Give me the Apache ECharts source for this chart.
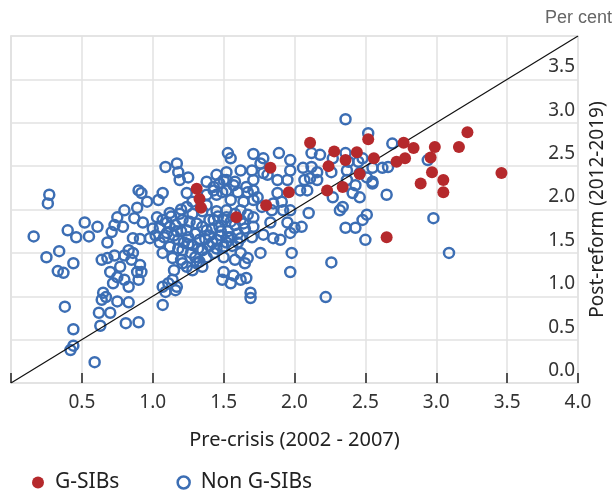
<!DOCTYPE html>
<html>
<head>
<meta charset="utf-8">
<script src="https://cdn.jsdelivr.net/npm/echarts@6/dist/echarts.min.js"></script>
<style>
html,body{margin:0;padding:0;background:#fff;}
#c{width:612px;height:491px;}
</style>
</head>
<body>
<div id="c"></div>
<script>
var xTicks = [0, 0.5, 1.0, 1.5, 2.0, 2.5, 3.0, 3.5, 4.0];
var yTicks = [0, 0.5, 1.0, 1.5, 2.0, 2.5, 3.0, 3.5, 4.0];
var seriesNames = ['G-SIBs', 'Non G-SIBs'];

var gsibs = [
[1.31,2.24],[1.33,2.12],[1.34,2.02],[1.59,1.91],[1.80,2.05],[1.83,2.48],[1.96,2.20],
[2.11,2.77],[2.23,2.22],[2.24,2.50],[2.28,2.67],[2.34,2.26],[2.36,2.57],[2.44,2.66],
[2.46,2.41],[2.52,2.81],[2.56,2.59],[2.65,1.68],[2.72,2.55],[2.77,2.77],[2.78,2.59],
[2.84,2.71],[2.89,2.30],[2.96,2.60],[2.97,2.43],[2.99,2.72],[3.05,2.34],[3.05,2.20],
[3.16,2.72],[3.22,2.89],[3.46,2.42]
];

var nonGsibs = [
[0.27,2.17],[0.26,2.07],[0.16,1.69],[0.40,1.76],[0.46,1.68],[0.52,1.85],[0.55,1.69],[0.61,1.80],
[0.25,1.45],[0.34,1.52],[0.44,1.38],[0.33,1.29],[0.37,1.27],[0.38,0.88],[0.44,0.62],[0.42,0.38],
[0.44,0.43],[0.59,0.24],[0.63,0.66],[0.62,0.81],[0.70,0.81],[0.81,0.69],[0.90,0.70],[0.64,0.96],
[0.67,0.99],[0.75,0.94],[0.83,0.93],[0.72,1.15],[0.75,1.22],[0.80,1.19],[0.83,1.11],[0.90,1.19],
[0.64,1.42],[0.68,1.44],[0.70,1.28],[0.77,1.34],[0.80,1.47],[0.85,1.42],[0.91,1.36],[0.89,1.28],
[0.83,1.53],[0.86,1.50],[0.68,1.62],[0.71,1.74],[0.73,1.82],[0.79,1.80],[0.75,1.91],[0.80,1.99],
[0.89,2.02],[0.87,1.90],[0.93,1.85],[0.86,1.67],[0.91,1.66],[0.98,1.67],[0.90,2.22],[0.92,2.19],
[0.96,2.09],[1.07,2.19],[1.04,2.11],[1.09,2.49],[1.17,2.53],[1.18,2.43],[1.25,2.37],[1.19,2.34],
[0.73,1.47],[0.65,1.04],[0.92,1.28],
[1.03,1.91],[1.07,1.88],[1.12,1.96],[1.05,1.79],[1.10,1.73],[1.16,1.82],[1.21,1.88],[1.24,1.76],
[1.18,1.65],[1.12,1.57],[1.07,1.50],[1.14,1.44],[1.21,1.53],[1.28,1.59],[1.33,1.65],[1.38,1.76],
[1.31,1.84],[1.43,1.88],[1.47,1.80],[1.52,1.91],[1.45,1.65],[1.35,1.53],[1.43,1.50],[1.50,1.57],
[1.30,1.45],[1.24,1.34],[1.21,1.38],[1.28,1.30],[1.35,1.34],[1.11,1.15],[1.14,1.19],[1.09,1.05],
[1.07,0.90],[1.17,1.11],[1.16,1.07],[1.07,1.11],[1.24,2.03],[1.24,2.19],[1.28,2.09],[1.38,2.05],
[1.45,2.17],[1.49,2.20],[1.52,2.34],[1.53,2.65],[1.55,2.59],[1.50,1.28],[1.49,1.19],[1.55,1.15],
[1.43,2.22],[1.47,2.30],[1.38,2.17],
[1.10,1.85],[1.15,1.70],[1.20,1.75],[1.25,1.68],[1.30,1.72],[1.35,1.80],[1.40,1.70],[1.42,1.62],
[1.48,1.70],[1.53,1.75],[1.55,1.68],[1.58,1.82],[1.60,1.62],[1.45,1.55],[1.38,1.45],[1.33,1.40],
[1.18,1.55],[1.25,1.60],[1.02,1.70],[1.05,1.62],[1.00,1.78],[1.13,1.92],[1.28,1.95],[1.35,1.98],
[1.20,2.00],[1.45,1.98],[1.58,1.95],[1.62,1.88],[1.65,1.78],[1.15,1.30],[1.20,1.42],[1.40,1.58],
[1.50,1.45],
[1.48,1.75],[1.52,1.62],[1.56,1.58],[1.60,1.72],[1.42,1.78],[1.37,1.66],[1.32,1.55],[1.27,1.50],
[1.22,1.62],[1.17,1.75],[1.12,1.80],[1.08,1.68],[1.46,1.92],[1.55,1.86],[1.26,1.86],[1.19,1.95],
[1.40,1.88],
[2.36,3.04],[2.52,2.88],[2.69,2.76],[1.71,2.64],[1.78,2.59],[1.89,2.65],[1.97,2.57],[2.12,2.65],
[2.18,2.63],[2.27,2.59],[2.36,2.65],[2.45,2.55],[2.48,2.59],[2.38,2.55],[2.55,2.48],[2.62,2.48],
[2.66,2.49],[2.94,2.57],[1.70,2.45],[1.76,2.53],[1.78,2.42],[1.97,2.45],[2.06,2.48],[2.12,2.49],
[2.16,2.43],[2.26,2.43],[2.37,2.45],[2.51,2.37],[2.55,2.32],[1.50,2.34],[1.58,2.32],[1.66,2.26],
[1.71,2.34],[1.88,2.34],[1.95,2.34],[2.07,2.34],[2.11,2.36],[2.16,2.34],[2.37,2.34],[2.43,2.28],
[2.55,2.30],[1.52,2.22],[1.60,2.20],[1.67,2.20],[1.74,2.14],[1.88,2.19],[2.04,2.22],[2.09,2.22],
[2.27,2.14],[2.41,2.19],[2.46,2.14],[2.65,2.17],[1.55,2.11],[1.64,2.09],[1.71,2.11],[1.77,2.03],
[1.85,2.07],[1.91,2.09],[1.92,1.99],[1.52,1.99],[1.62,1.99],[1.67,1.94],[1.71,1.91],[1.84,1.99],
[1.97,1.99],[2.10,1.96],[1.50,1.88],[1.64,1.84],[1.71,1.80],[1.83,1.85],[1.95,1.85],[2.00,1.79],
[2.05,1.80],[2.32,1.99],[2.34,2.03],[2.51,1.94],[2.48,1.88],[2.36,1.79],[2.43,1.79],[2.50,1.65],
[2.98,1.90],[1.53,1.68],[1.62,1.67],[1.70,1.68],[1.78,1.71],[1.85,1.67],[1.97,1.73],[1.50,1.57],
[1.62,1.50],[1.67,1.44],[1.76,1.50],[1.98,1.50],[1.58,1.42],[1.65,1.38],[1.57,1.24],[1.62,1.19],
[1.66,1.21],[1.97,1.28],[2.26,1.39],[3.09,1.50],[1.69,1.04],[1.69,0.98],[2.22,0.99],[1.31,1.38],
[1.90,1.65],[2.46,2.42],[1.38,2.32],[1.43,2.26],[1.45,2.40],[1.52,2.43],[1.57,2.28],[1.62,2.45],
[1.71,2.22],[1.81,2.40]
];

var diagonal = [[0,0],[4,4]];

var FONT = 'Noto Sans';
var BLUE = '#3C6EB4';
var RED = '#B5292C';

var chart = echarts.init(document.getElementById('c'), null, {renderer:'canvas'});
chart.setOption({
  animation: false,
  backgroundColor: '#fff',
  textStyle: {fontFamily: FONT},
  grid: {left: 11, right: 34, top: 36, bottom: 108, show: true, borderColor: '#e2e2e2', borderWidth: 1.5,
         containLabel: false, outerBoundsMode: 'none'},
  graphic: [{
    type: 'text', right: 0, top: 9,
    style: {text: 'Per cent', fill: '#666', font: '18px "Liberation Sans", Arial, sans-serif'}
  }],
  legend: {
    left: 27, top: 467, itemGap: 57, itemWidth: 12, itemHeight: 12,
    textStyle: {fontFamily: FONT, fontSize: 21, color: '#222', padding: [0,0,0,6]},
    data: [
      {name: seriesNames[0], icon: 'circle', itemStyle: {color: RED}},
      {name: seriesNames[1], icon: 'circle', itemStyle: {color: 'rgba(0,0,0,0)', borderColor: BLUE, borderWidth: 2.5}}
    ]
  },
  xAxis: {
    type: 'value', min: xTicks[0], max: xTicks[xTicks.length-1], interval: 0.5,
    name: 'Pre-crisis (2002 - 2007)', nameLocation: 'middle', nameGap: 47,
    nameTextStyle: {fontFamily: FONT, fontSize: 20, color: '#222'},
    axisLine: {show: true, lineStyle: {color: '#e2e2e2', width: 1.5}},
    axisTick: {show: true, inside: true, length: 10, lineStyle: {color: '#222', width: 1.5}},
    axisLabel: {
      fontFamily: FONT, fontSize: 19, color: '#333', margin: 10,
      formatter: function(v){ return v === 0 ? '' : v.toFixed(1); }
    },
    splitLine: {show: true, lineStyle: {color: '#e2e2e2', width: 1.5}}
  },
  yAxis: {
    type: 'value', position: 'right', min: yTicks[0], max: yTicks[yTicks.length-1], interval: 0.5,
    name: 'Post-reform (2012-2019)', nameLocation: 'middle', nameGap: 10, nameRotate: 90,
    nameTextStyle: {fontFamily: FONT, fontSize: 19, color: '#222'},
    axisLine: {show: true, lineStyle: {color: '#e2e2e2', width: 1.5}},
    axisTick: {show: false},
    axisLabel: {
      inside: true, fontFamily: FONT, fontSize: 19, color: '#333', margin: 3,
      verticalAlign: 'bottom', padding: [0,0,3,0], showMaxLabel: false,
      formatter: function(v){ return v.toFixed(1); }
    },
    splitLine: {show: true, lineStyle: {color: '#e2e2e2', width: 1.5}}
  },
  series: [
    {
      name: seriesNames[1], type: 'scatter', data: nonGsibs, symbol: 'circle', symbolSize: 10,
      itemStyle: {color: 'rgba(0,0,0,0)', borderColor: BLUE, borderWidth: 2.5, opacity: 1},
      z: 2
    },
    {
      type: 'line', data: diagonal, symbol: 'none', silent: true,
      lineStyle: {color: '#111', width: 1.2}, z: 3
    },
    {
      name: seriesNames[0], type: 'scatter', data: gsibs, symbol: 'circle', symbolSize: 12,
      itemStyle: {color: RED, opacity: 1}, z: 4
    }
  ]
});
</script>
</body>
</html>
